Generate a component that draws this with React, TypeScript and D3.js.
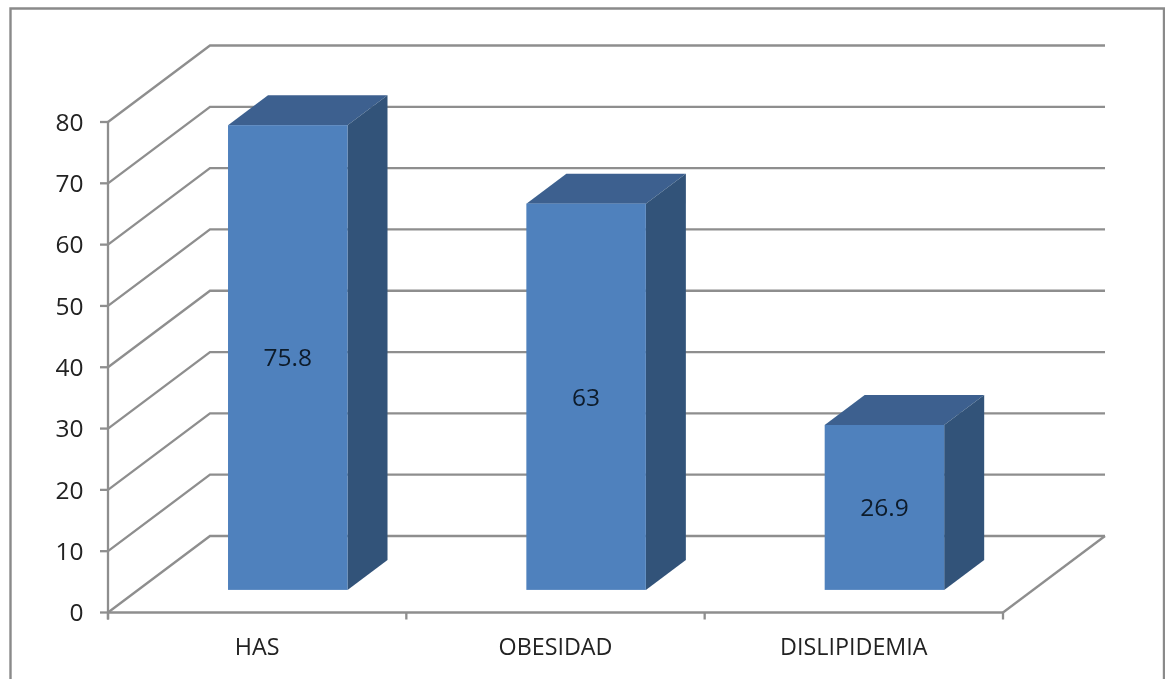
import * as d3 from "d3";

const categories = ["HAS", "OBESIDAD", "DISLIPIDEMIA"];
const values = [75.8, 63, 26.9];
const yTicks = [0, 10, 20, 30, 40, 50, 60, 70, 80];

const width = 1165;
const height = 679;
const font = "'Open Sans', sans-serif";
const lineColor = "#8e8e8e";

// 3d depth of the whole plot floor and of one bar
const depthX = 102;
const depthY = 76.5;
const barDepthX = 40;
const barDepthY = 30;

const x = d3.scaleBand().domain(categories).range([108, 1003]).paddingInner(0);
const y = d3.scaleLinear().domain([0, 80]).range([612.5, 122]);

const barWidth = 119.5;
const barShiftX = 30.6;
const barShiftY = 22.6;

const pts = (p: [number, number][]) => p.map((d) => d.join(",")).join(" ");

export default function App() {
  const [x0, x1] = x.range();
  const edges = [x0, ...categories.map((c) => (x(c) ?? 0) + x.bandwidth())];

  return (
    <svg
      width={width}
      height={height}
      style={{ position: "absolute", left: 0, top: 0, background: "#fff" }}
    >
      <defs>
        <filter id="soft" x="-2%" y="-2%" width="104%" height="104%">
          <feGaussianBlur stdDeviation="0.5" />
        </filter>
      </defs>
      <g filter="url(#soft)">
        <path
          d={`M10.5,${height} V8.5 H1164 V${height}`}
          fill="none"
          stroke="#8a8a8a"
          strokeWidth={2.4}
        />

        {yTicks.map((t) => (
          <g key={t} stroke={lineColor} strokeWidth={2.3} fill="none">
            <polyline
              points={pts([
                [x0, y(t)],
                [x0 + depthX, y(t) - depthY],
                [x1 + depthX, y(t) - depthY],
              ])}
            />
            <line x1={x0 - 8} x2={x0} y1={y(t)} y2={y(t)} />
          </g>
        ))}

        <g stroke={lineColor} strokeWidth={2.3} fill="none">
          <line x1={x0} x2={x0} y1={y(80)} y2={y(0) + 7} />
          <line x1={x0} x2={x1} y1={y(0)} y2={y(0)} />
          <line
            x1={x1}
            y1={y(0)}
            x2={x1 + depthX}
            y2={y(0) - depthY}
          />
          {edges.map((e, i) => (
            <line key={i} x1={e} x2={e} y1={y(0)} y2={y(0) + 7} />
          ))}
        </g>

        {yTicks.map((t) => (
          <text
            key={t}
            x={83.5}
            y={y(t)}
            dy="0.36em"
            textAnchor="end"
            fontFamily={font}
            fontSize={24.5}
            fill="#222"
          >
            {t}
          </text>
        ))}

        {categories.map((c, i) => {
          const left = (x(c) ?? 0) + (x.bandwidth() - barWidth) / 2 + barShiftX;
          const right = left + barWidth;
          const base = y(0) - barShiftY;
          const top = base - (y(0) - y(values[i]));
          return (
            <g key={c}>
              <polygon
                points={pts([
                  [left, top],
                  [left + barDepthX, top - barDepthY],
                  [right + barDepthX, top - barDepthY],
                  [right, top],
                ])}
                fill="#3c618f"
              />
              <polygon
                points={pts([
                  [right, top],
                  [right + barDepthX, top - barDepthY],
                  [right + barDepthX, base - barDepthY],
                  [right, base],
                ])}
                fill="#315279"
              />
              <rect
                x={left}
                y={top}
                width={barWidth}
                height={base - top}
                fill="#4f81bd"
              />
              <text
                x={(left + right) / 2}
                y={(top + base) / 2}
                dy="0.36em"
                textAnchor="middle"
                fontFamily={font}
                fontSize={24.5}
                fill="#0d1a2a"
              >
                {values[i]}
              </text>
              <text
                x={(x(c) ?? 0) + x.bandwidth() / 2}
                y={654.5}
                textAnchor="middle"
                fontFamily={font}
                fontSize={23.3}
                fill="#222"
              >
                {c}
              </text>
            </g>
          );
        })}
      </g>
    </svg>
  );
}
